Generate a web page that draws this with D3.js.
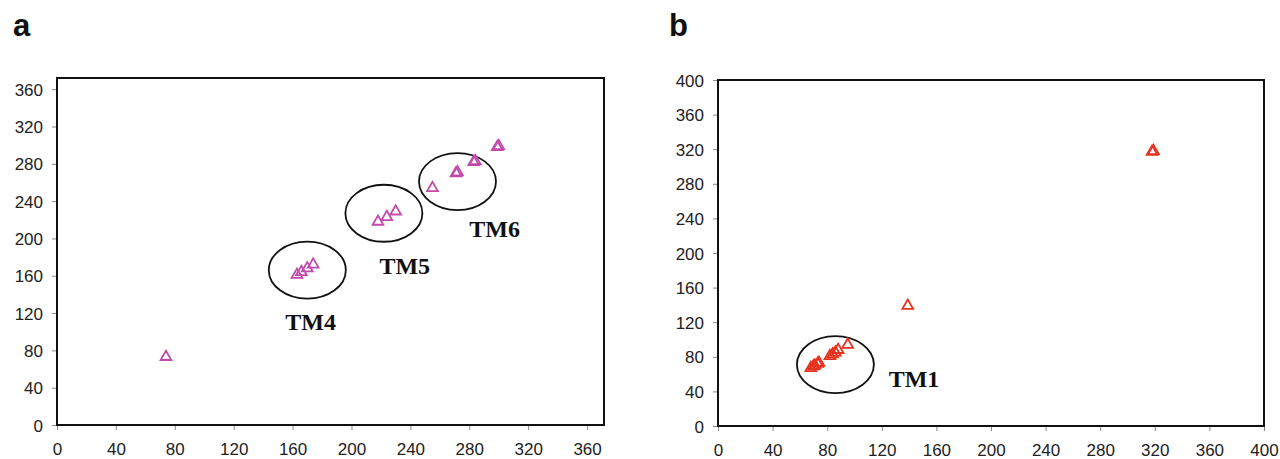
<!DOCTYPE html>
<html>
<head>
<meta charset="utf-8">
<script src="https://cdn.jsdelivr.net/npm/d3@7"></script>
<style>
  body { margin: 0; background: #fff; }
  .tick text { font-family: "Liberation Sans", Arial, sans-serif; font-size: 17px; fill: #222; }
  .tick line { stroke: #888; }
  .domain { display: none; }
</style>
</head>
<body>
<div id="chart"></div>
<script>
// panel a (magenta)
var pointsA = [
  [74, 73],
  [163, 161], [166, 164], [170, 168], [174, 172],
  [218, 218], [224, 223], [230, 229],
  [255, 254], [271, 270], [272, 271], [283, 282], [284, 283], [299, 298], [300, 299]
];
var clustersA = [
  { name: "TM4", cx: 170, cy: 166, lx: 155, ly: 102 },
  { name: "TM5", cx: 222, cy: 227, lx: 219, ly: 162 },
  { name: "TM6", cx: 272, cy: 261, lx: 280, ly: 202 }
];
var ticksA = [0, 40, 80, 120, 160, 200, 240, 280, 320, 360];

// panel b (red)
var pointsB = [
  [68, 67], [70, 69], [71, 70], [73, 72], [74, 73],
  [82, 81], [84, 83], [86, 85], [88, 88], [95, 94],
  [139, 139], [318, 317], [319, 318]
];
var clustersB = [
  { name: "TM1", cx: 86, cy: 71, lx: 125, ly: 45 }
];
var ticksB = [0, 40, 80, 120, 160, 200, 240, 280, 320, 360, 400];

var svg = d3.select("#chart").append("svg")
    .attr("width", 1280)
    .attr("height", 459);

function drawPanel(opts) {
  var x = d3.scaleLinear().domain(opts.xDomain).range([opts.left, opts.right]);
  var y = d3.scaleLinear().domain(opts.yDomain).range([opts.bottom, opts.top]);

  var g = svg.append("g");

  g.append("text")
      .attr("x", opts.labelX)
      .attr("y", 36)
      .attr("font-family", "Liberation Sans, Arial, sans-serif")
      .attr("font-weight", "bold")
      .attr("font-size", 31)
      .attr("fill", "#111")
      .text(opts.letter);

  g.append("g")
      .attr("transform", "translate(0," + opts.bottom + ")")
      .call(d3.axisBottom(x).tickValues(opts.ticks).tickSize(5).tickPadding(13));

  g.append("g")
      .attr("transform", "translate(" + opts.left + ",0)")
      .call(d3.axisLeft(y).tickValues(opts.ticks).tickSize(5).tickPadding(9))
      .selectAll(".tick text").attr("dy", "0.36em");

  g.append("rect")
      .attr("x", opts.left)
      .attr("y", opts.top)
      .attr("width", opts.right - opts.left)
      .attr("height", opts.bottom - opts.top)
      .attr("fill", "none")
      .attr("stroke", "#111")
      .attr("stroke-width", 2);

  g.selectAll(".ring")
      .data(opts.clusters)
      .enter().append("ellipse")
      .attr("cx", function(d) { return x(d.cx); })
      .attr("cy", function(d) { return y(d.cy); })
      .attr("rx", 38.5)
      .attr("ry", 28.5)
      .attr("fill", "none")
      .attr("stroke", "#111")
      .attr("stroke-width", 1.8);

  g.selectAll(".tm")
      .data(opts.clusters)
      .enter().append("text")
      .attr("x", function(d) { return x(d.lx); })
      .attr("y", function(d) { return y(d.ly); })
      .attr("font-family", "Liberation Serif, Times New Roman, serif")
      .attr("font-weight", "bold")
      .attr("font-size", 24)
      .attr("fill", "#111")
      .text(function(d) { return d.name; });

  var tri = d3.symbol().type(d3.symbolTriangle).size(50);
  g.selectAll(".pt")
      .data(opts.points)
      .enter().append("path")
      .attr("d", tri)
      .attr("transform", function(d) { return "translate(" + x(d[0]) + "," + y(d[1]) + ")"; })
      .attr("fill", "none")
      .attr("stroke", opts.color)
      .attr("stroke-width", 1.8);
}

drawPanel({
  letter: "a", labelX: 13,
  left: 57, right: 604, top: 78, bottom: 425,
  xDomain: [0, 371.5], yDomain: [0, 372],
  ticks: ticksA, points: pointsA, clusters: clustersA,
  color: "#c24aac"
});

drawPanel({
  letter: "b", labelX: 669,
  left: 718, right: 1264, top: 80, bottom: 426,
  xDomain: [0, 400], yDomain: [0, 400],
  ticks: ticksB, points: pointsB, clusters: clustersB,
  color: "#e6321e"
});
</script>
</body>
</html>
